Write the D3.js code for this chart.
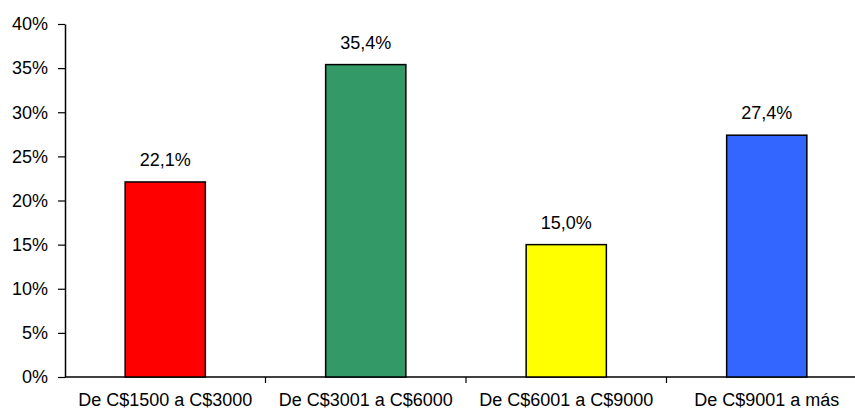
<!DOCTYPE html>
<html>
<head>
<meta charset="utf-8">
<script src="https://cdn.jsdelivr.net/npm/d3@7"></script>
<style>
  html, body { margin: 0; padding: 0; background: #fff; }
  svg { display: block; }
  text { font-family: Arial, "Liberation Sans", Helvetica, sans-serif; fill: #000; }
</style>
</head>
<body>
<svg id="chart" width="855" height="411"></svg>
<script>
// Income brackets and their share of respondents (percent)
const categories = ["De C$1500 a C$3000", "De C$3001 a C$6000", "De C$6001 a C$9000", "De C$9001 a más"];
const values = [22.1, 35.4, 15.0, 27.4];
const barColors = ["#FF0000", "#339966", "#FFFF00", "#3366FF"];
const yTicks = [0, 5, 10, 15, 20, 25, 30, 35, 40];

const svg = d3.select("#chart");
const margin = { left: 65, right: -12, top: 24, bottom: 34 };
const width = 855 - margin.left - margin.right;
const height = 411 - margin.top - margin.bottom;
const g = svg.append("g").attr("transform", `translate(${margin.left},${margin.top})`);

const x = d3.scaleBand().domain(categories).range([0, width]).paddingInner(0.6).paddingOuter(0.3);
const y = d3.scaleLinear().domain([0, 40]).range([height, 0]);

const fmt = v => v.toFixed(1).replace(".", ",") + "%";

// Y axis
const yAxis = g.append("g")
  .call(d3.axisLeft(y).tickValues(yTicks).tickFormat(d => d + "%").tickSize(7).tickSizeOuter(0).tickPadding(10));
yAxis.select(".domain").attr("stroke", "#000").attr("stroke-width", 1.5);
yAxis.selectAll(".tick line").attr("stroke", "#000").attr("stroke-width", 1.2);
yAxis.selectAll("text").style("font-size", "18px").attr("fill", "#000").attr("x", -17);

// X axis with ticks between categories
const xAxis = g.append("g").attr("transform", `translate(0,${height})`);
xAxis.append("line").attr("x1", 0).attr("x2", width).attr("y1", 0).attr("y2", 0)
  .attr("stroke", "#000").attr("stroke-width", 1.5);
const bounds = d3.range(1, categories.length).map(i => i * (width / categories.length));
xAxis.selectAll("line.sep").data(bounds).join("line").attr("class", "sep")
  .attr("x1", d => d).attr("x2", d => d).attr("y1", 0).attr("y2", 6)
  .attr("stroke", "#000").attr("stroke-width", 1.2);
xAxis.selectAll("text.cat").data(categories).join("text").attr("class", "cat")
  .attr("x", d => x(d) + x.bandwidth() / 2).attr("y", 29)
  .attr("text-anchor", "middle").style("font-size", "18px").text(d => d);

// Bars
g.selectAll("rect.bar").data(values).join("rect").attr("class", "bar")
  .attr("x", (d, i) => x(categories[i]))
  .attr("y", d => y(d))
  .attr("width", x.bandwidth())
  .attr("height", d => height - y(d))
  .attr("fill", (d, i) => barColors[i])
  .attr("stroke", "#000").attr("stroke-width", 1.5);

// Value labels
g.selectAll("text.val").data(values).join("text").attr("class", "val")
  .attr("x", (d, i) => x(categories[i]) + x.bandwidth() / 2)
  .attr("y", d => y(d) - 16)
  .attr("text-anchor", "middle").style("font-size", "18px").text(fmt);
</script>
</body>
</html>
